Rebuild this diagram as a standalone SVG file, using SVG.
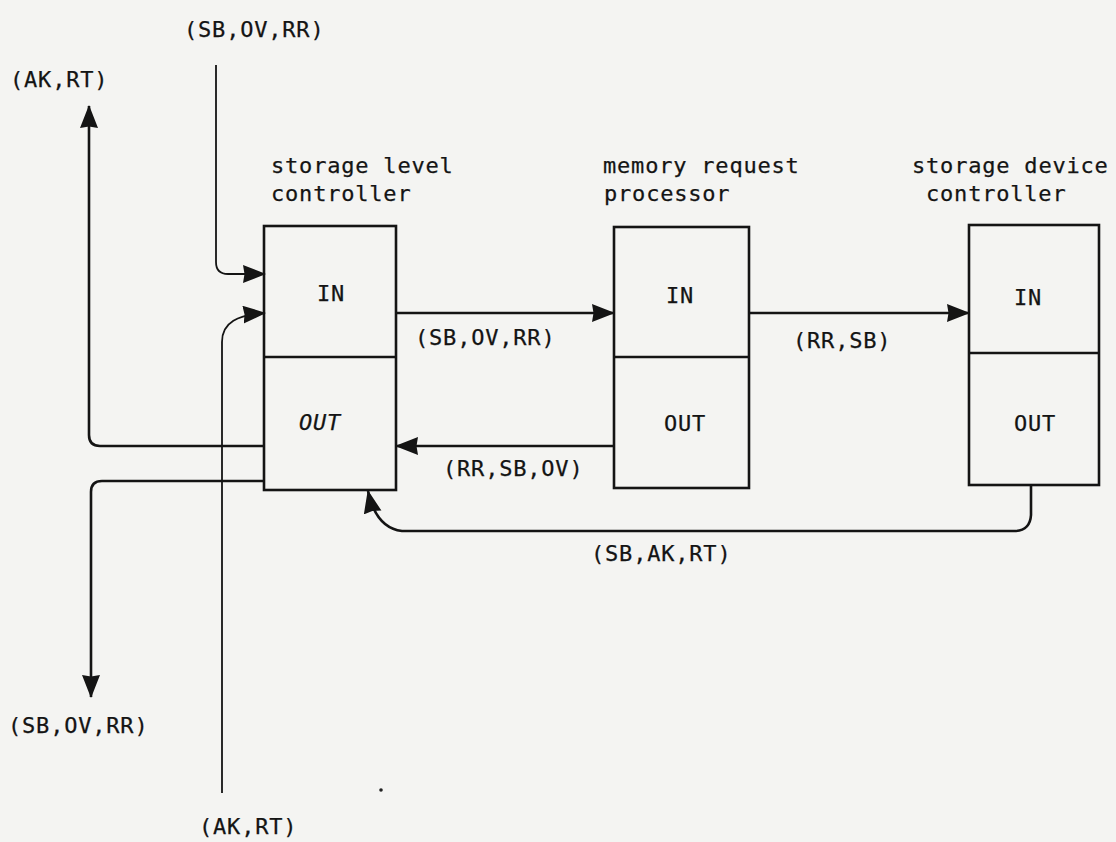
<svg xmlns="http://www.w3.org/2000/svg" width="1116" height="842" viewBox="0 0 1116 842">
<style>
  .t { font-family: "DejaVu Sans Mono", "Liberation Mono", monospace; font-size: 22px; letter-spacing: 0.8px; fill: #141414; stroke: #141414; stroke-width: 0.25; }
  .box { fill: none; stroke: #141414; stroke-width: 2.6; }
  .div { stroke: #141414; stroke-width: 2.6; }
  .ln { fill: none; stroke: #141414; stroke-width: 1.8; stroke-linejoin: round; }
  .ln2 { fill: none; stroke: #141414; stroke-width: 2.6; }
</style>
<defs>
  <marker id="ah" markerUnits="userSpaceOnUse" markerWidth="24" markerHeight="20" refX="22" refY="9" orient="auto" viewBox="0 0 24 20">
    <path d="M0,0 L23,9 L0,18 L1.5,9 z" fill="#141414"/>
  </marker>
</defs>
<rect x="0" y="0" width="1116" height="842" fill="#f4f4f2"/>

<g id="slc">
  <rect class="box" x="264" y="226" width="132" height="264"/>
  <line class="div" x1="264" y1="357" x2="396" y2="357"/>
  <text class="t" x="317" y="301">IN</text>
  <text class="t" x="299" y="430" font-style="italic">OUT</text>
  <text class="t" x="271" y="173">storage level</text>
  <text class="t" x="271" y="201">controller</text>
</g>

<g id="mrp">
  <rect class="box" x="614" y="227" width="135" height="261"/>
  <line class="div" x1="614" y1="357" x2="749" y2="357"/>
  <text class="t" x="666" y="303">IN</text>
  <text class="t" x="664" y="431">OUT</text>
  <text class="t" x="603" y="173">memory request</text>
  <text class="t" x="604" y="201">processor</text>
</g>

<g id="sdc">
  <rect class="box" x="969" y="225" width="130" height="260"/>
  <line class="div" x1="969" y1="353" x2="1099" y2="353"/>
  <text class="t" x="1014" y="305">IN</text>
  <text class="t" x="1014" y="431">OUT</text>
  <text class="t" x="912" y="173">storage device</text>
  <text class="t" x="926" y="201">controller</text>
</g>

<g id="connectors">
  <path class="ln" d="M216,65 V262 Q216,274 228,274 H265" marker-end="url(#ah)"/>
  <path class="ln" d="M222,793 V342 C222,322 238,315 265,313" marker-end="url(#ah)"/>
  <path class="ln2" d="M264,446 H100 Q89,446 89,435 V106" marker-end="url(#ah)"/>
  <path class="ln2" d="M264,481 H102 Q91,481 91,492 V697" marker-end="url(#ah)"/>
  <path class="ln2" d="M396,313 H614" marker-end="url(#ah)"/>
  <path class="ln2" d="M749,313 H969" marker-end="url(#ah)"/>
  <path class="ln2" d="M614,446 H396" marker-end="url(#ah)"/>
  <path class="ln2" d="M1031,486 V515 Q1030,531 1014,531 H402 Q376,528 368,491" marker-end="url(#ah)"/>

  <text class="t" x="184" y="37">(SB,OV,RR)</text>
  <text class="t" x="10" y="87">(AK,RT)</text>
  <text class="t" x="415" y="345">(SB,OV,RR)</text>
  <text class="t" x="793" y="348">(RR,SB)</text>
  <text class="t" x="443" y="476">(RR,SB,OV)</text>
  <text class="t" x="591" y="561">(SB,AK,RT)</text>
  <text class="t" x="8" y="733">(SB,OV,RR)</text>
  <text class="t" x="199" y="834">(AK,RT)</text>
</g>
<circle cx="381" cy="790" r="1.8" fill="#222"/>
</svg>
